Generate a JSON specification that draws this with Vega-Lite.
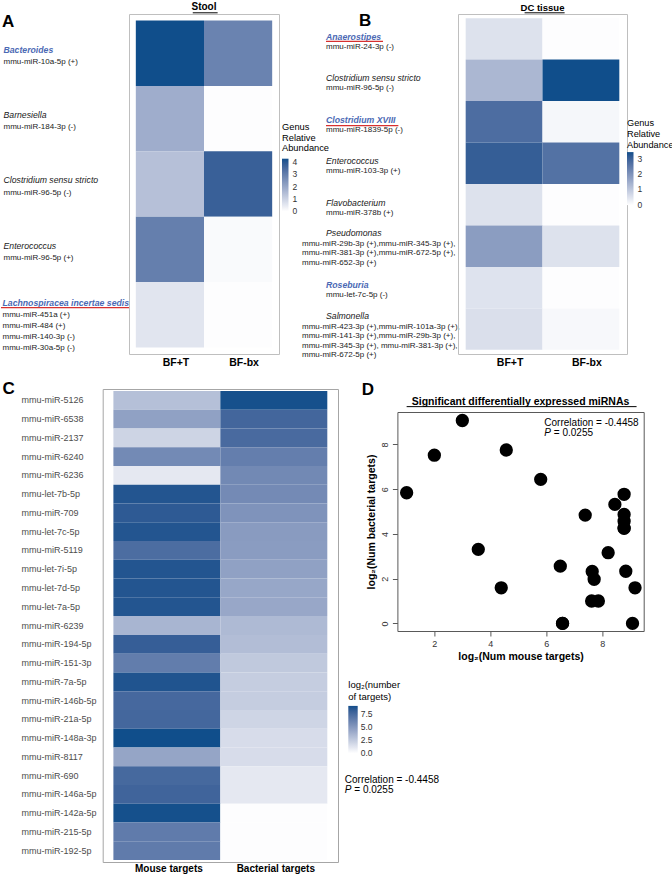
{
  "$schema": "https://vega.github.io/schema/vega-lite/v6.json",
  "padding": {"top": 1, "left": 0, "right": 0, "bottom": 0},
  "background": "white",
  "config": {
    "font": "Liberation Sans",
    "view": {"stroke": null},
    "title": {"font": "Liberation Sans", "color": "black"},
    "axis": {"labelFont": "Liberation Sans", "titleFont": "Liberation Sans", "grid": false},
    "legend": {"labelFont": "Liberation Sans", "titleFont": "Liberation Sans"}
  },
  "datasets": {
    "stool": [
      {"genus": "Bacteroides", "group": "BF+T", "abundance": 4.3},
      {"genus": "Bacteroides", "group": "BF-bx", "abundance": 2.9},
      {"genus": "Barnesiella", "group": "BF+T", "abundance": 1.85},
      {"genus": "Barnesiella", "group": "BF-bx", "abundance": 0},
      {"genus": "Clostridium sensu stricto", "group": "BF+T", "abundance": 1.4},
      {"genus": "Clostridium sensu stricto", "group": "BF-bx", "abundance": 3.8},
      {"genus": "Enterococcus", "group": "BF+T", "abundance": 3.0},
      {"genus": "Enterococcus", "group": "BF-bx", "abundance": 0.08},
      {"genus": "Lachnospiracea incertae sedis", "group": "BF+T", "abundance": 0.55},
      {"genus": "Lachnospiracea incertae sedis", "group": "BF-bx", "abundance": 0}
    ],
    "stool_labels": [
      {"genus": "Bacteroides", "mirnas": "mmu-miR-10a-5p (+)"},
      {"genus": "Barnesiella", "mirnas": "mmu-miR-184-3p (-)"},
      {"genus": "Clostridium sensu stricto", "mirnas": "mmu-miR-96-5p (-)"},
      {"genus": "Enterococcus", "mirnas": "mmu-miR-96-5p (+)"},
      {"genus": "Lachnospiracea incertae sedis", "mirnas": "mmu-miR-451a (+)\nmmu-miR-484 (+)\nmmu-miR-140-3p (-)\nmmu-miR-30a-5p (-)"}
    ],
    "dc": [
      {"genus": "Anaerostipes", "group": "BF+T", "abundance": 0.5},
      {"genus": "Anaerostipes", "group": "BF-bx", "abundance": 0},
      {"genus": "Clostridium sensu stricto", "group": "BF+T", "abundance": 1.3},
      {"genus": "Clostridium sensu stricto", "group": "BF-bx", "abundance": 3.45},
      {"genus": "Clostridium XVIII", "group": "BF+T", "abundance": 2.77},
      {"genus": "Clostridium XVIII", "group": "BF-bx", "abundance": 0.12},
      {"genus": "Enterococcus", "group": "BF+T", "abundance": 3.1},
      {"genus": "Enterococcus", "group": "BF-bx", "abundance": 2.68},
      {"genus": "Flavobacterium", "group": "BF+T", "abundance": 0.5},
      {"genus": "Flavobacterium", "group": "BF-bx", "abundance": 0},
      {"genus": "Pseudomonas", "group": "BF+T", "abundance": 1.8},
      {"genus": "Pseudomonas", "group": "BF-bx", "abundance": 0.5},
      {"genus": "Roseburia", "group": "BF+T", "abundance": 0.48},
      {"genus": "Roseburia", "group": "BF-bx", "abundance": 0},
      {"genus": "Salmonella", "group": "BF+T", "abundance": 0.55},
      {"genus": "Salmonella", "group": "BF-bx", "abundance": 0.1}
    ],
    "dc_labels": [
      {"genus": "Anaerostipes", "mirnas": "mmu-miR-24-3p (-)"},
      {"genus": "Clostridium sensu stricto", "mirnas": "mmu-miR-96-5p (-)"},
      {"genus": "Clostridium XVIII", "mirnas": "mmu-miR-1839-5p (-)"},
      {"genus": "Enterococcus", "mirnas": "mmu-miR-103-3p (+)"},
      {"genus": "Flavobacterium", "mirnas": "mmu-miR-378b (+)"},
      {"genus": "Pseudomonas", "mirnas": "mmu-miR-29b-3p (+),mmu-miR-345-3p (+),\nmmu-miR-381-3p (+),mmu-miR-672-5p (+),\nmmu-miR-652-3p (+)"},
      {"genus": "Roseburia", "mirnas": "mmu-let-7c-5p (-)"},
      {"genus": "Salmonella", "mirnas": "mmu-miR-423-3p (+),mmu-miR-101a-3p (+),\nmmu-miR-141-3p (+),mmu-miR-29b-3p (+),\nmmu-miR-345-3p (+), mmu-miR-381-3p (+),\nmmu-miR-672-5p (+)"}
    ],
    "targets": [
      {"mirna": "mmu-miR-5126", "Mouse targets": 3.0, "Bacterial targets": 9.07},
      {"mirna": "mmu-miR-6538", "Mouse targets": 4.57, "Bacterial targets": 7.75},
      {"mirna": "mmu-miR-2137", "Mouse targets": 2.0, "Bacterial targets": 7.52},
      {"mirna": "mmu-miR-6240", "Mouse targets": 5.8, "Bacterial targets": 6.44},
      {"mirna": "mmu-miR-6236", "Mouse targets": 1.01, "Bacterial targets": 5.84},
      {"mirna": "mmu-let-7b-5p", "Mouse targets": 8.78, "Bacterial targets": 5.77},
      {"mirna": "mmu-miR-709", "Mouse targets": 8.45, "Bacterial targets": 5.32},
      {"mirna": "mmu-let-7c-5p", "Mouse targets": 8.78, "Bacterial targets": 4.87},
      {"mirna": "mmu-miR-5119", "Mouse targets": 7.39, "Bacterial targets": 4.84},
      {"mirna": "mmu-let-7i-5p", "Mouse targets": 8.78, "Bacterial targets": 4.57},
      {"mirna": "mmu-let-7d-5p", "Mouse targets": 8.78, "Bacterial targets": 4.27},
      {"mirna": "mmu-let-7a-5p", "Mouse targets": 8.78, "Bacterial targets": 4.25},
      {"mirna": "mmu-miR-6239", "Mouse targets": 3.57, "Bacterial targets": 3.31},
      {"mirna": "mmu-miR-194-5p", "Mouse targets": 8.21, "Bacterial targets": 3.16},
      {"mirna": "mmu-miR-151-3p", "Mouse targets": 6.5, "Bacterial targets": 2.56},
      {"mirna": "mmu-miR-7a-5p", "Mouse targets": 8.84, "Bacterial targets": 2.33},
      {"mirna": "mmu-miR-146b-5p", "Mouse targets": 7.64, "Bacterial targets": 2.32},
      {"mirna": "mmu-miR-21a-5p", "Mouse targets": 7.71, "Bacterial targets": 1.97},
      {"mirna": "mmu-miR-148a-3p", "Mouse targets": 9.17, "Bacterial targets": 1.59},
      {"mirna": "mmu-miR-8117", "Mouse targets": 4.39, "Bacterial targets": 1.59},
      {"mirna": "mmu-miR-690", "Mouse targets": 7.62, "Bacterial targets": 1.0},
      {"mirna": "mmu-miR-146a-5p", "Mouse targets": 7.86, "Bacterial targets": 1.0},
      {"mirna": "mmu-miR-142a-5p", "Mouse targets": 9.08, "Bacterial targets": 0},
      {"mirna": "mmu-miR-215-5p", "Mouse targets": 6.58, "Bacterial targets": 0},
      {"mirna": "mmu-miR-192-5p", "Mouse targets": 6.58, "Bacterial targets": 0}
    ],
    "annotation": [
      {"corr": "Correlation = -0.4458", "plabel": "P", "pval": "= 0.0255"}
    ]
  },
  "resolve": {"scale": {"color": "independent"}, "legend": {"color": "independent"}},
  "spacing": 11,
  "vconcat": [
    {
      "bounds": "flush",
      "spacing": 0,
      "resolve": {"scale": {"color": "independent"}, "legend": {"color": "independent"}},
      "hconcat": [
        {
          "width": 128,
          "height": 340,
          "title": {"text": "A", "anchor": "start", "fontSize": 17, "fontWeight": "bold", "offset": -17, "dx": 1, "frame": "group"},
          "data": {"name": "stool_labels"},
          "encoding": {
            "y": {"field": "genus", "type": "nominal", "scale": {"type": "band", "domain": ["Bacteroides", "Barnesiella", "Clostridium sensu stricto", "Enterococcus", "Lachnospiracea incertae sedis"], "paddingInner": 0, "paddingOuter": 0.1}, "axis": null},
            "x": {"datum": 0, "type": "quantitative", "scale": {"domain": [0, 1], "nice": false, "zero": false}, "axis": null}
          },
          "layer": [
            {
              "transform": [{"filter": {"not": {"field": "genus", "oneOf": ["Bacteroides", "Lachnospiracea incertae sedis"]}}}],
              "mark": {"type": "text", "align": "left", "baseline": "middle", "dx": 2.5, "dy": -3.6, "fontSize": 8.7, "fontStyle": "italic", "color": "#1a1a1a"},
              "encoding": {"text": {"field": "genus"}}
            },
            {
              "transform": [{"filter": {"field": "genus", "oneOf": ["Bacteroides"]}}],
              "mark": {"type": "text", "align": "left", "baseline": "middle", "dx": 2.5, "dy": -3.6, "fontSize": 8.7, "fontStyle": "italic", "fontWeight": "bold", "color": "#4B69B4"},
              "encoding": {"text": {"field": "genus"}}
            },
            {
              "transform": [{"filter": {"field": "genus", "oneOf": ["Lachnospiracea incertae sedis"]}}],
              "mark": {"type": "text", "align": "left", "baseline": "middle", "dx": 1.5, "dy": -12, "fontSize": 8.7, "fontStyle": "italic", "fontWeight": "bold", "color": "#4B69B4"},
              "encoding": {"text": {"field": "genus"}}
            },
            {
              "transform": [{"filter": {"not": {"field": "genus", "oneOf": ["Lachnospiracea incertae sedis"]}}}],
              "mark": {"type": "text", "align": "left", "baseline": "middle", "dx": 2.5, "dy": 8.5, "fontSize": 8, "color": "#1a1a1a"},
              "encoding": {"text": {"field": "mirnas"}}
            },
            {
              "transform": [{"filter": {"field": "genus", "oneOf": ["Lachnospiracea incertae sedis"]}}],
              "mark": {"type": "text", "align": "left", "baseline": "top", "dx": 1.5, "dy": -4, "fontSize": 8, "lineHeight": 11, "lineBreak": "\n", "color": "#1a1a1a"},
              "encoding": {"text": {"field": "mirnas"}}
            },
            {
              "transform": [{"filter": {"field": "genus", "oneOf": ["Lachnospiracea incertae sedis"]}}],
              "mark": {"type": "rule", "color": "#D7302F", "strokeWidth": 1.3},
              "encoding": {
                "y": {"field": "genus", "type": "nominal", "bandPosition": 0.39},
                "x": {"datum": 0},
                "x2": {"datum": 1.0}
              }
            }
          ]
        },
        {
          "width": 150,
          "height": 340,
          "view": {"stroke": "#BFBFBF", "strokeWidth": 1},
          "title": {"text": "Stool", "fontSize": 10, "fontWeight": "bold", "offset": 0, "anchor": "middle", "frame": "group"},
          "resolve": {"scale": {"x": "independent", "y": "independent"}},
          "layer": [
            {
              "data": {"name": "stool"},
              "mark": {"type": "rect"},
              "encoding": {
                "x": {"field": "group", "type": "nominal", "scale": {"domain": ["BF+T", "BF-bx"], "paddingInner": 0, "paddingOuter": 0.1}, "axis": {"orient": "bottom", "title": null, "ticks": false, "domain": false, "labelAngle": 0, "labelFontSize": 10.5, "labelFontWeight": "bold", "labelColor": "black", "labelPadding": 3, "labelOffset": 6}},
                "y": {"field": "genus", "type": "nominal", "scale": {"domain": ["Bacteroides", "Barnesiella", "Clostridium sensu stricto", "Enterococcus", "Lachnospiracea incertae sedis"], "paddingInner": 0, "paddingOuter": 0.1}, "axis": null},
                "color": {
                  "field": "abundance", "type": "quantitative",
                  "scale": {"domain": [-0.04, 4.3], "range": ["#ffffff", "#104E8B"], "interpolate": "lab", "nice": false, "zero": false},
                  "legend": {"orient": "none", "legendX": 153, "legendY": 109.4, "direction": "vertical", "padding": 0, "title": ["Genus", "Relative", "Abundance"], "titleFontSize": 9.3, "titleFontWeight": "normal", "titleColor": "black", "titleLineHeight": 10.5, "titlePadding": 5, "gradientLength": 52.7, "gradientThickness": 6.5, "gradientStrokeWidth": 0, "labelFontSize": 8.5, "labelColor": "#333333", "labelOffset": 4, "labelOverlap": false, "values": [0, 1, 2, 3, 4]}
                }
              }
            },
            {
              "data": {"name": "annotation"},
              "mark": {"type": "rule", "color": "black", "strokeWidth": 1},
              "encoding": {
                "x": {"datum": 0.425, "type": "quantitative", "scale": {"domain": [0, 1], "nice": false, "zero": false}, "axis": null},
                "x2": {"datum": 0.591},
                "y": {"datum": 1.0035, "type": "quantitative", "scale": {"domain": [0, 1], "nice": false, "zero": false}, "axis": null}
              }
            }
          ]
        },
        {
          "width": 178.7,
          "height": 340,
          "title": {"text": "B", "anchor": "start", "fontSize": 17, "fontWeight": "bold", "offset": -16, "dx": 80, "frame": "group"},
          "data": {"name": "dc_labels"},
          "encoding": {
            "y": {"field": "genus", "type": "nominal", "scale": {"type": "band", "domain": ["Anaerostipes", "Clostridium sensu stricto", "Clostridium XVIII", "Enterococcus", "Flavobacterium", "Pseudomonas", "Roseburia", "Salmonella"], "paddingInner": 0, "paddingOuter": 0.1}, "axis": null},
            "x": {"datum": 0, "type": "quantitative", "scale": {"domain": [0, 1], "nice": false, "zero": false}, "axis": null}
          },
          "layer": [
            {
              "transform": [{"filter": {"field": "genus", "oneOf": ["Clostridium sensu stricto", "Enterococcus", "Flavobacterium"]}}],
              "mark": {"type": "text", "align": "left", "baseline": "middle", "dx": 47, "dy": -2.2, "fontSize": 8.7, "fontStyle": "italic", "color": "#1a1a1a"},
              "encoding": {"text": {"field": "genus"}}
            },
            {
              "transform": [{"filter": {"field": "genus", "oneOf": ["Anaerostipes", "Clostridium XVIII", "Roseburia"]}}],
              "mark": {"type": "text", "align": "left", "baseline": "middle", "dx": 47, "dy": -2.2, "fontSize": 8.7, "fontStyle": "italic", "fontWeight": "bold", "color": "#4B69B4"},
              "encoding": {"text": {"field": "genus"}}
            },
            {
              "transform": [{"filter": {"field": "genus", "oneOf": ["Pseudomonas", "Salmonella"]}}],
              "mark": {"type": "text", "align": "left", "baseline": "middle", "dx": 47, "dy": -12.8, "fontSize": 8.7, "fontStyle": "italic", "color": "#1a1a1a"},
              "encoding": {"text": {"field": "genus"}}
            },
            {
              "transform": [{"filter": {"not": {"field": "genus", "oneOf": ["Pseudomonas", "Salmonella"]}}}],
              "mark": {"type": "text", "align": "left", "baseline": "middle", "dx": 47, "dy": 7.8, "fontSize": 8, "color": "#1a1a1a"},
              "encoding": {"text": {"field": "mirnas"}}
            },
            {
              "transform": [{"filter": {"field": "genus", "oneOf": ["Pseudomonas", "Salmonella"]}}],
              "mark": {"type": "text", "align": "left", "baseline": "top", "dx": 23, "dy": -6.5, "fontSize": 8, "lineHeight": 9.6, "lineBreak": "\n", "color": "#1a1a1a"},
              "encoding": {"text": {"field": "mirnas"}}
            },
            {
              "transform": [{"filter": {"field": "genus", "oneOf": ["Anaerostipes"]}}],
              "mark": {"type": "rule", "color": "#D7302F", "strokeWidth": 1.3},
              "encoding": {
                "y": {"field": "genus", "type": "nominal", "bandPosition": 0.56},
                "x": {"datum": 0.263},
                "x2": {"datum": 0.582}
              }
            },
            {
              "transform": [{"filter": {"field": "genus", "oneOf": ["Clostridium XVIII"]}}],
              "mark": {"type": "rule", "color": "#D7302F", "strokeWidth": 1.3},
              "encoding": {
                "y": {"field": "genus", "type": "nominal", "bandPosition": 0.59},
                "x": {"datum": 0.263},
                "x2": {"datum": 0.668}
              }
            }
          ]
        },
        {
          "width": 169,
          "height": 340,
          "view": {"stroke": "#BFBFBF", "strokeWidth": 1},
          "title": {"text": "DC tissue", "fontSize": 9.5, "fontWeight": "bold", "offset": 0, "anchor": "middle", "frame": "group"},
          "resolve": {"scale": {"x": "independent", "y": "independent"}},
          "layer": [
            {
              "data": {"name": "dc"},
              "mark": {"type": "rect"},
              "encoding": {
                "x": {"field": "group", "type": "nominal", "scale": {"domain": ["BF+T", "BF-bx"], "paddingInner": 0, "paddingOuter": 0.1}, "axis": {"orient": "bottom", "title": null, "ticks": false, "domain": false, "labelAngle": 0, "labelFontSize": 10.5, "labelFontWeight": "bold", "labelColor": "black", "labelPadding": 3, "labelOffset": 6}},
                "y": {"field": "genus", "type": "nominal", "scale": {"domain": ["Anaerostipes", "Clostridium sensu stricto", "Clostridium XVIII", "Enterococcus", "Flavobacterium", "Pseudomonas", "Roseburia", "Salmonella"], "paddingInner": 0, "paddingOuter": 0.1}, "axis": null},
                "color": {
                  "field": "abundance", "type": "quantitative",
                  "scale": {"domain": [-0.03, 3.45], "range": ["#ffffff", "#104E8B"], "interpolate": "lab", "nice": false, "zero": false},
                  "legend": {"orient": "none", "legendX": 169, "legendY": 105.3, "direction": "vertical", "padding": 0, "title": ["Genus", "Relative", "Abundance"], "titleFontSize": 9.2, "titleFontWeight": "normal", "titleColor": "black", "titleLineHeight": 10.8, "titlePadding": 2, "gradientLength": 53, "gradientThickness": 6.5, "gradientStrokeWidth": 0, "labelFontSize": 8.5, "labelColor": "#333333", "labelOffset": 4, "labelOverlap": false, "values": [0, 1, 2, 3]}
                }
              }
            },
            {
              "data": {"name": "annotation"},
              "mark": {"type": "rule", "color": "black", "strokeWidth": 1},
              "encoding": {
                "x": {"datum": 0.394, "type": "quantitative", "scale": {"domain": [0, 1], "nice": false, "zero": false}, "axis": null},
                "x2": {"datum": 0.631},
                "y": {"datum": 1.0035, "type": "quantitative", "scale": {"domain": [0, 1], "nice": false, "zero": false}, "axis": null}
              }
            }
          ]
        }
      ]
    },
    {
      "bounds": "flush",
      "spacing": 58.7,
      "resolve": {"scale": {"color": "independent"}, "legend": {"color": "independent"}},
      "hconcat": [
        {
          "width": 43,
          "height": 473,
          "title": {"text": "C", "anchor": "start", "fontSize": 17, "fontWeight": "bold", "offset": -8.5, "dx": 1.5, "frame": "group"},
          "data": {"values": []},
          "mark": "point"
        },
        {
          "width": 235.3,
          "height": 473,
          "view": {"stroke": "#A6A6A6", "strokeWidth": 1},
          "data": {"name": "targets"},
          "transform": [{"fold": ["Mouse targets", "Bacterial targets"], "as": ["target", "log2n"]}],
          "mark": {"type": "rect"},
          "encoding": {
            "x": {"field": "target", "type": "nominal", "scale": {"domain": ["Mouse targets", "Bacterial targets"], "paddingInner": 0, "paddingOuter": 0.1}, "axis": {"orient": "bottom", "title": null, "ticks": false, "domain": false, "labelAngle": 0, "labelFontSize": 10, "labelFontWeight": "bold", "labelColor": "black", "labelPadding": 1.5, "labelOffset": 2}},
            "y": {"field": "mirna", "type": "nominal", "scale": {"domain": ["mmu-miR-5126", "mmu-miR-6538", "mmu-miR-2137", "mmu-miR-6240", "mmu-miR-6236", "mmu-let-7b-5p", "mmu-miR-709", "mmu-let-7c-5p", "mmu-miR-5119", "mmu-let-7i-5p", "mmu-let-7d-5p", "mmu-let-7a-5p", "mmu-miR-6239", "mmu-miR-194-5p", "mmu-miR-151-3p", "mmu-miR-7a-5p", "mmu-miR-146b-5p", "mmu-miR-21a-5p", "mmu-miR-148a-3p", "mmu-miR-8117", "mmu-miR-690", "mmu-miR-146a-5p", "mmu-miR-142a-5p", "mmu-miR-215-5p", "mmu-miR-192-5p"], "paddingInner": 0, "paddingOuter": 0.1}, "axis": {"orient": "left", "title": null, "ticks": false, "tickSize": 0, "domain": false, "labelAlign": "left", "labelBaseline": "middle", "labelPadding": 81.7, "labelFontSize": 9, "labelColor": "#4D4D4D", "labelLimit": 200}},
            "color": {
              "field": "log2n", "type": "quantitative",
              "scale": {"domain": [-0.08, 9.17], "range": ["#ffffff", "#104E8B"], "interpolate": "lab", "nice": false, "zero": false},
              "legend": {"orient": "none", "legendX": 245.6, "legendY": 290.7, "direction": "vertical", "padding": 0, "title": ["log₂(number", "of targets)"], "titleFontSize": 9.5, "titleFontWeight": "normal", "titleColor": "black", "titleLineHeight": 12.7, "titlePadding": 4, "gradientLength": 47.3, "gradientThickness": 9.4, "gradientStrokeWidth": 0, "labelFontSize": 8.5, "labelColor": "#333333", "labelOffset": 3, "labelOverlap": false, "values": [0, 2.5, 5, 7.5], "format": ".1f"}
            }
          }
        },
        {
          "bounds": "flush",
          "spacing": 0,
          "vconcat": [
            {
              "width": 246.3,
              "height": 22.7,
              "title": {"text": "D", "anchor": "start", "fontSize": 17, "fontWeight": "bold", "offset": -10, "dx": -35.7, "frame": "group"},
              "data": {"values": []},
              "mark": "point"
            },
            {
              "width": 246.3,
              "height": 219,
              "view": {"stroke": "#595959", "strokeWidth": 1},
              "title": {"text": "Significant differentially expressed miRNAs", "fontSize": 10.5, "fontWeight": "bold", "offset": -1, "anchor": "middle", "frame": "group"},
              "layer": [
                {
                  "data": {"name": "targets"},
                  "mark": {"type": "circle", "size": 177, "color": "black", "opacity": 1},
                  "encoding": {
                    "x": {"field": "Mouse targets", "type": "quantitative", "scale": {"domain": [0.68, 9.48], "nice": false, "zero": false}, "axis": {"values": [2, 4, 6, 8], "title": "log₂(Num mouse targets)", "titleFontSize": 10.5, "titleFontWeight": "bold", "titleColor": "black", "titlePadding": 3, "labelFontSize": 9, "labelColor": "#333333", "tickColor": "#595959", "tickSize": 5, "labelPadding": 3, "domain": false, "grid": false}},
                    "y": {"field": "Bacterial targets", "type": "quantitative", "scale": {"domain": [-0.34, 9.45], "nice": false, "zero": false}, "axis": {"values": [0, 2, 4, 6, 8], "title": "log₂(Num bacterial targets)", "titleFontSize": 10.5, "titleFontWeight": "bold", "titleColor": "black", "titlePadding": 4, "labelFontSize": 9, "labelColor": "#333333", "labelAngle": -90, "tickColor": "#595959", "tickSize": 5, "labelPadding": 3, "domain": false, "grid": false}}
                  }
                },
                {
                  "data": {"name": "annotation"},
                  "mark": {"type": "rule", "color": "black", "strokeWidth": 1},
                  "encoding": {"x": {"datum": 1.01, "type": "quantitative"}, "x2": {"datum": 9.225}, "y": {"datum": 9.69, "type": "quantitative"}}
                },
                {
                  "data": {"name": "annotation"},
                  "mark": {"type": "text", "align": "left", "baseline": "middle", "fontSize": 10, "color": "black"},
                  "encoding": {"x": {"datum": 5.93, "type": "quantitative"}, "y": {"datum": 8.98, "type": "quantitative"}, "text": {"field": "corr", "type": "nominal"}}
                },
                {
                  "data": {"name": "annotation"},
                  "mark": {"type": "text", "align": "left", "baseline": "middle", "fontSize": 10, "fontStyle": "italic", "color": "black"},
                  "encoding": {"x": {"datum": 5.93, "type": "quantitative"}, "y": {"datum": 8.53, "type": "quantitative"}, "text": {"field": "plabel", "type": "nominal"}}
                },
                {
                  "data": {"name": "annotation"},
                  "mark": {"type": "text", "align": "left", "baseline": "middle", "fontSize": 10, "dx": 9.5, "color": "black"},
                  "encoding": {"x": {"datum": 5.93, "type": "quantitative"}, "y": {"datum": 8.53, "type": "quantitative"}, "text": {"field": "pval", "type": "nominal"}}
                },
                {
                  "data": {"name": "annotation"},
                  "mark": {"type": "text", "align": "left", "baseline": "middle", "fontSize": 10, "color": "black"},
                  "encoding": {"x": {"datum": -1.2, "type": "quantitative"}, "y": {"datum": -6.98, "type": "quantitative"}, "text": {"field": "corr", "type": "nominal"}}
                },
                {
                  "data": {"name": "annotation"},
                  "mark": {"type": "text", "align": "left", "baseline": "middle", "fontSize": 10, "fontStyle": "italic", "color": "black"},
                  "encoding": {"x": {"datum": -1.2, "type": "quantitative"}, "y": {"datum": -7.43, "type": "quantitative"}, "text": {"field": "plabel", "type": "nominal"}}
                },
                {
                  "data": {"name": "annotation"},
                  "mark": {"type": "text", "align": "left", "baseline": "middle", "fontSize": 10, "dx": 9.5, "color": "black"},
                  "encoding": {"x": {"datum": -1.2, "type": "quantitative"}, "y": {"datum": -7.43, "type": "quantitative"}, "text": {"field": "pval", "type": "nominal"}}
                }
              ]
            }
          ]
        }
      ]
    }
  ]
}
